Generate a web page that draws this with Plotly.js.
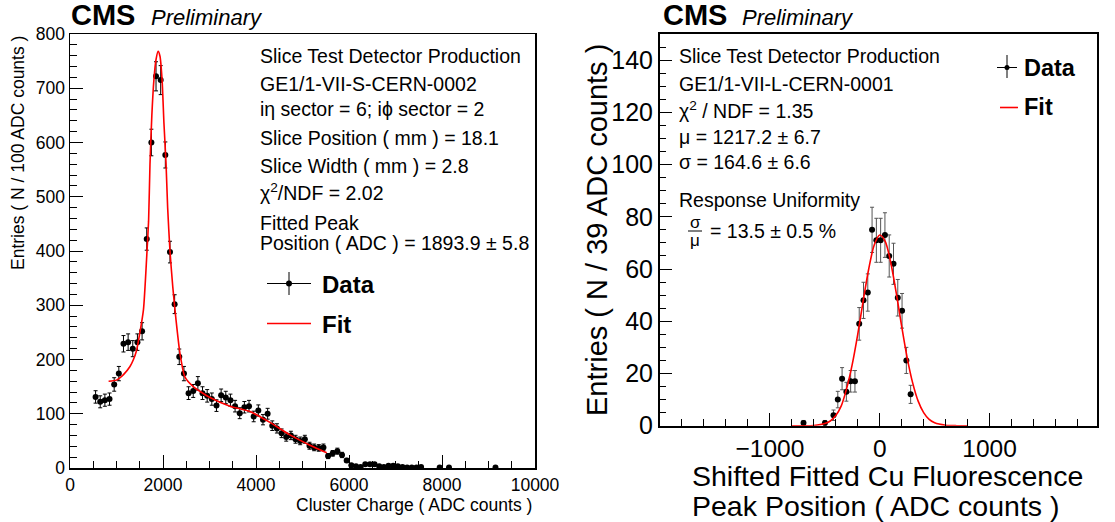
<!DOCTYPE html>
<html><head><meta charset="utf-8">
<script src="https://cdn.plot.ly/plotly-3.0.1.min.js"></script>
<style>html,body{margin:0;padding:0;background:#fff}#chart{width:1115px;height:522px}</style>
</head><body><div id="chart"></div>
<script>
// ---- Left panel: cluster charge spectrum (bins of 100 ADC) ----
const leftX = [550,650,750,850,950,1050,1150,1250,1350,1450,1550,1650,1750,1850,1950,2050,2150,2250,2350,2450,2550,2650,2750,2850,2950,3050,3150,3250,3350,3450,3550,3650,3750,3850,3950,4050,4150,4250,4350,4450,4550,4650,4750,4850,4950,5050,5150,5250,5350,5450,5550,5650,5750,5850,5950,6050,6150,6250,6350,6450,6550,6650,6750,6850,6950,7050,7150,7250,7350,7450,7550,7950,8150,9150];
const leftY = [131,122,125,127,154,174,229,232,220,232,252,422,600,722,715,577,398,302,205,174,138,142,156,138,133,127,115,134,130,125,114,101,112,114,95,106,89,100,78,73,64,57,60,53,50,53,41,38,37,38,22,27,31,24,14,5,3,2,7,7,7,3,2,4,4,3,2,1,1,1,2,1,1,1];
const leftFitX = [830,1000,1150,1290,1360,1430,1500,1580,1650,1690,1720,1760,1805,1850,1895,1935,1980,2020,2065,2100,2150,2210,2280,2365,2470,2650,2800,3010,3440,3870,4300,4730,5160,5520];
const leftFitY = [160,162,172,187,199,216,248,292,390,455,560,650,716,753,768,759,716,636,562,480,400,334,273,211,168,150,141,130,114,104,84,61,42,28];
const leftXTicks = [0,2000,4000,6000,8000,10000];
const leftYTicks = [0,100,200,300,400,500,600,700,800];

// ---- Right panel: shifted Cu fluorescence peak positions (bins of 39 ADC) ----
const rightX = [-693.5,-498.5,-420.5,-381.5,-342.5,-303.5,-264.5,-225.5,-186.5,-147.5,-108.5,-69.5,-30.5,8.5,47.5,86.5,125.5,164.5,203.5,242.5,281.5];
const rightY = [1,1,4,10,18,13,17,17,39,48,51,75,71,71,73,65,62,49,44,25,12];
const rightFitX = [-800,-700,-600,-500,-450,-400,-350,-300,-250,-200,-150,-100,-50,0,50,100,150,200,250,300,350,400,450,500,600,700,800];
const rightFitY = [0,0,0.1,0.8,1.8,3.9,7.6,14.4,23.5,35,47.9,60,69.2,73,70.6,62.6,51,38,26,16.4,9.4,5,2.4,1.1,0.2,0,0];
const rightXTicks = [-1000,0,1000];
const rightXTickText = ['\u22121000','0','1000'];
const rightYTicks = [0,20,40,60,80,100,120,140];

const W = 1115, H = 522;
const px = x => x / W;
const py = y => 1 - y / H;
const FONT = 'Liberation Sans, Arial, Helvetica, sans-serif';

const traces = [
  {x: leftX, y: leftY, type: 'scatter', mode: 'markers', xaxis: 'x', yaxis: 'y',
   marker: {color: '#000', size: 6},
   error_y: {type: 'data', array: leftY.map(v => Math.sqrt(v)), color: '#000', thickness: 1, width: 2},
   error_x: {type: 'constant', value: 50, color: '#000', thickness: 1, width: 0},
   showlegend: false, name: 'Data'},
  {x: leftFitX, y: leftFitY, type: 'scatter', mode: 'lines', xaxis: 'x', yaxis: 'y',
   line: {color: '#ff0000', width: 1.6, shape: 'spline', smoothing: 0.6}, showlegend: false, name: 'Fit'},
  {x: rightX, y: rightY, type: 'scatter', mode: 'markers', xaxis: 'x2', yaxis: 'y2',
   marker: {color: '#000', size: 6},
   error_y: {type: 'data', array: rightY.map(v => Math.sqrt(v)), color: '#555', thickness: 1, width: 2},
   error_x: {type: 'constant', value: 19.5, color: '#555', thickness: 1, width: 0},
   showlegend: false, name: 'Data'},
  {x: rightFitX, y: rightFitY, type: 'scatter', mode: 'lines', xaxis: 'x2', yaxis: 'y2',
   line: {color: '#ff0000', width: 1.6, shape: 'spline', smoothing: 0.8}, showlegend: false, name: 'Fit'}
];

const axCommon = {showgrid: false, zeroline: false, showline: true, mirror: true, linecolor: '#000',
  ticks: 'inside', tickcolor: '#000', tickwidth: 1, color: '#000'};

const ann = (x, y, text, size, opts = {}) => Object.assign({
  xref: 'paper', yref: 'paper', x: px(x), y: py(y), text: text, showarrow: false,
  xanchor: 'left', yanchor: 'middle', font: {family: FONT, size: size, color: '#000'}
}, opts);

const annotations = [
  // Left panel
  ann(69, 15, '<b>CMS</b>', 29),
  ann(149, 17, '<i>Preliminary</i>', 22),
  ann(258, 56, 'Slice Test Detector Production', 19.5),
  ann(258, 84, 'GE1/1-VII-S-CERN-0002', 19.5),
  ann(258, 109, 'i\u03b7 sector = 6; i\u03d5 sector = 2', 19.5),
  ann(258, 138, 'Slice Position ( mm ) = 18.1', 19.5),
  ann(258, 166, 'Slice Width ( mm ) = 2.8', 19.5),
  ann(258, 192, '\u03c7<sup>2</sup>/NDF = 2.02', 19.5),
  ann(258, 223, 'Fitted Peak', 19.5),
  ann(258, 243, 'Position ( ADC ) = 1893.9 \u00b1 5.8', 19.5),
  ann(320, 284, '<b>Data</b>', 24),
  ann(320, 324, '<b>Fit</b>', 24),
  ann(18, 34, 'Entries ( N / 100 ADC counts )', 17.5, {textangle: -90, xanchor: 'center', yanchor: 'top'}),
  ann(534, 505, 'Cluster Charge ( ADC counts )', 17.5, {xanchor: 'right'}),
  // Right panel
  ann(661, 15, '<b>CMS</b>', 29),
  ann(740, 17, '<i>Preliminary</i>', 22),
  ann(677, 56, 'Slice Test Detector Production', 19.5),
  ann(677, 84, 'GE1/1-VII-L-CERN-0001', 19.5),
  ann(677, 110, '\u03c7<sup>2</sup> / NDF = 1.35', 19.5),
  ann(677, 137, '\u03bc = 1217.2 \u00b1 6.7', 19.5),
  ann(677, 162, '\u03c3 = 164.6 \u00b1 6.6', 19.5),
  ann(677, 200, 'Response Uniformity', 19.5),
  ann(695, 222, '\u03c3', 17, {xanchor: 'center'}),
  ann(695, 240, '\u03bc', 17, {xanchor: 'center'}),
  ann(708, 231, '= 13.5 \u00b1 0.5 %', 19.5),
  ann(1022, 68, '<b>Data</b>', 23.5),
  ann(1022, 107, '<b>Fit</b>', 23.5),
  ann(597, 230, 'Entries ( N / 39 ADC counts )', 29, {textangle: -90, xanchor: 'center', yanchor: 'middle'}),
  ann(690, 476, 'Shifted Fitted Cu Fluorescence', 28.5),
  ann(690, 505.5, 'Peak Position ( ADC counts )', 28.5)
];

const line = (x0, y0, x1, y1, color, w) => ({type: 'line', xref: 'paper', yref: 'paper',
  x0: px(x0), y0: py(y0), x1: px(x1), y1: py(y1), line: {color: color, width: w}});
const dot = (x, y, r) => ({type: 'circle', xref: 'paper', yref: 'paper',
  x0: px(x - r), x1: px(x + r), y0: py(y + r), y1: py(y - r), fillcolor: '#000', line: {color: '#000', width: 0}});

const shapes = [
  // left legend
  line(267, 283.5, 311, 283.5, '#000', 1), line(289, 272, 289, 295, '#000', 1), dot(289, 283.5, 3),
  line(267, 323.5, 311, 323.5, '#ff0000', 1.6),
  // right legend
  line(997, 67.5, 1017, 67.5, '#000', 1), line(1007, 55, 1007, 78, '#000', 1), dot(1007, 67.5, 2.5),
  line(1000, 107.5, 1018, 107.5, '#ff0000', 1.6),
  // sigma/mu fraction bar
  line(688, 231, 702, 231, '#000', 1)
];

const layout = {
  width: W, height: H, margin: {l: 0, r: 0, t: 0, b: 0},
  paper_bgcolor: '#fff', plot_bgcolor: '#fff', showlegend: false,
  font: {family: FONT, color: '#000'},
  xaxis: Object.assign({}, axCommon, {domain: [px(70), px(535)], range: [0, 10000], anchor: 'y',
    tickvals: leftXTicks, ticktext: leftXTicks.map(String), ticklen: 13, linewidth: 1.5,
    tickfont: {family: FONT, size: 17.5}, minor: {ticks: 'inside', dtick: 500, ticklen: 7, tickcolor: '#000'}}),
  yaxis: Object.assign({}, axCommon, {domain: [1 - 468 / H, 1 - 34 / H], range: [0, 800], anchor: 'x',
    tickvals: leftYTicks, ticktext: leftYTicks.map(String), ticklen: 13, linewidth: 1.5,
    tickfont: {family: FONT, size: 17.5}, minor: {ticks: 'inside', dtick: 20, ticklen: 7, tickcolor: '#000'}}),
  xaxis2: Object.assign({}, axCommon, {domain: [px(660), px(1097)], range: [-2000, 1978], anchor: 'y2',
    tickvals: rightXTicks, ticktext: rightXTickText, ticklen: 13, linewidth: 2,
    tickfont: {family: FONT, size: 24.5}, minor: {ticks: 'inside', dtick: 200, ticklen: 7, tickcolor: '#000'}}),
  yaxis2: Object.assign({}, axCommon, {domain: [1 - 425.7 / H, 1 - 34 / H], range: [0, 150], anchor: 'x2',
    tickvals: rightYTicks, ticktext: rightYTicks.map(String), ticklen: 12, linewidth: 2,
    tickfont: {family: FONT, size: 25}, minor: {ticks: 'inside', dtick: 5, ticklen: 6, tickcolor: '#000'}}),
  annotations: annotations,
  shapes: shapes
};

Plotly.newPlot('chart', traces, layout, {displayModeBar: false, staticPlot: true});
</script>
</body></html>
